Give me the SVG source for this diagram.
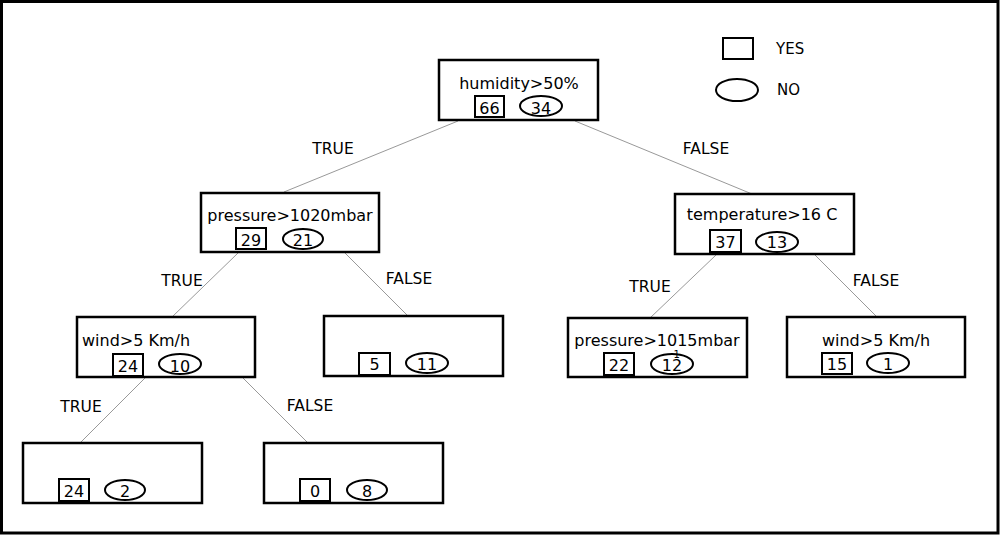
<svg xmlns="http://www.w3.org/2000/svg" width="1000" height="536" viewBox="0 0 1000 536">
<style>
text{font-family:"DejaVu Sans","Liberation Sans",sans-serif;fill:#000}
.t{font-size:16px;text-anchor:middle}
.n{font-size:16px;text-anchor:middle}
.lb{font-size:15.5px;text-anchor:middle}
.lg{font-size:15px}
.box{fill:#fff;stroke:#000;stroke-width:2.5}
.sq{fill:#fff;stroke:#000;stroke-width:2}
.el{fill:#fff;stroke:#000;stroke-width:2}
.c line{stroke:#999;stroke-width:1}
</style>
<rect x="1.5" y="1.5" width="996.5" height="531.5" fill="#fff" stroke="#000" stroke-width="3"/>
<g class="c" id="connectors">
<line x1="458" y1="121" x2="284" y2="192"/>
<line x1="575" y1="121" x2="752" y2="194"/>
<line x1="238" y1="253" x2="172" y2="317"/>
<line x1="345" y1="253" x2="408" y2="316"/>
<line x1="716" y1="255" x2="650" y2="318"/>
<line x1="815" y1="255" x2="877" y2="317"/>
<line x1="145" y1="378" x2="80" y2="443"/>
<line x1="243" y1="378" x2="308" y2="443"/>
</g>
<g id="edge-labels">
<text class="lb" x="333" y="154">TRUE</text>
<text class="lb" x="706" y="154">FALSE</text>
<text class="lb" x="182" y="286">TRUE</text>
<text class="lb" x="409" y="284">FALSE</text>
<text class="lb" x="650" y="292">TRUE</text>
<text class="lb" x="876" y="286">FALSE</text>
<text class="lb" x="81" y="412">TRUE</text>
<text class="lb" x="310" y="411">FALSE</text>
</g>
<g id="root">
<rect class="box" x="439" y="60" width="159" height="60"/>
<text class="t" x="519" y="89">humidity&gt;50%</text>
<rect class="sq" x="475" y="96" width="29" height="21"/>
<text class="n" x="489.5" y="114">66</text>
<ellipse class="el" cx="541" cy="106" rx="21" ry="10"/>
<text class="n" x="541" y="114">34</text>
</g>
<g id="pressure1020">
<rect class="box" x="201" y="193" width="178" height="59"/>
<text class="t" x="290" y="221">pressure&gt;1020mbar</text>
<rect class="sq" x="236" y="228" width="30" height="21"/>
<text class="n" x="251" y="246">29</text>
<ellipse class="el" cx="303" cy="239" rx="20" ry="10"/>
<text class="n" x="303" y="246">21</text>
</g>
<g id="temperature">
<rect class="box" x="675" y="194" width="179" height="60"/>
<text class="t" x="762" y="220">temperature&gt;16 C</text>
<rect class="sq" x="710" y="230" width="31" height="22"/>
<text class="n" x="725.5" y="248">37</text>
<ellipse class="el" cx="777" cy="242" rx="21" ry="10"/>
<text class="n" x="777" y="248">13</text>
</g>
<g id="wind-left">
<rect class="box" x="77" y="317" width="178" height="60"/>
<text style="font-size:16px" x="82" y="346">wind&gt;5 Km/h</text>
<rect class="sq" x="113" y="354" width="30" height="22"/>
<text class="n" x="128" y="372">24</text>
<ellipse class="el" cx="180" cy="364" rx="21" ry="10"/>
<text class="n" x="180" y="372">10</text>
</g>
<g id="leaf-5-11">
<rect class="box" x="324" y="316" width="179" height="60"/>
<rect class="sq" x="359" y="353" width="31" height="22"/>
<text class="n" x="374.5" y="370">5</text>
<ellipse class="el" cx="427" cy="363" rx="21" ry="10"/>
<text class="n" x="427" y="370">11</text>
</g>
<g id="pressure1015">
<rect class="box" x="568" y="318" width="179" height="59"/>
<text class="t" x="657" y="346">pressure&gt;1015mbar</text>
<rect class="sq" x="604" y="353" width="30" height="22"/>
<text class="n" x="619" y="371">22</text>
<ellipse class="el" cx="672" cy="364" rx="21" ry="10"/>
<text class="n" x="672" y="371">12</text>
<text style="font-size:10px" x="673.5" y="358">1</text>
</g>
<g id="wind-right">
<rect class="box" x="787" y="317" width="178" height="60"/>
<text class="t" x="876" y="346">wind&gt;5 Km/h</text>
<rect class="sq" x="822" y="353" width="30" height="21"/>
<text class="n" x="837" y="370">15</text>
<ellipse class="el" cx="888" cy="363" rx="21" ry="10"/>
<text class="n" x="888" y="370">1</text>
</g>
<g id="leaf-24-2">
<rect class="box" x="23" y="443" width="179" height="60"/>
<rect class="sq" x="59" y="479" width="30" height="22"/>
<text class="n" x="74" y="497">24</text>
<ellipse class="el" cx="125" cy="490" rx="20" ry="10"/>
<text class="n" x="125" y="497">2</text>
</g>
<g id="leaf-0-8">
<rect class="box" x="264" y="443" width="179" height="60"/>
<rect class="sq" x="300" y="479" width="30" height="22"/>
<text class="n" x="315" y="497">0</text>
<ellipse class="el" cx="367" cy="490" rx="20" ry="10"/>
<text class="n" x="367" y="497">8</text>
</g>
<g id="legend">
<rect class="sq" x="723" y="38" width="30" height="21"/>
<text class="lg" x="776" y="54">YES</text>
<ellipse class="el" cx="737" cy="90" rx="21" ry="11"/>
<text class="lg" x="777" y="95">NO</text>
</g>
</svg>
